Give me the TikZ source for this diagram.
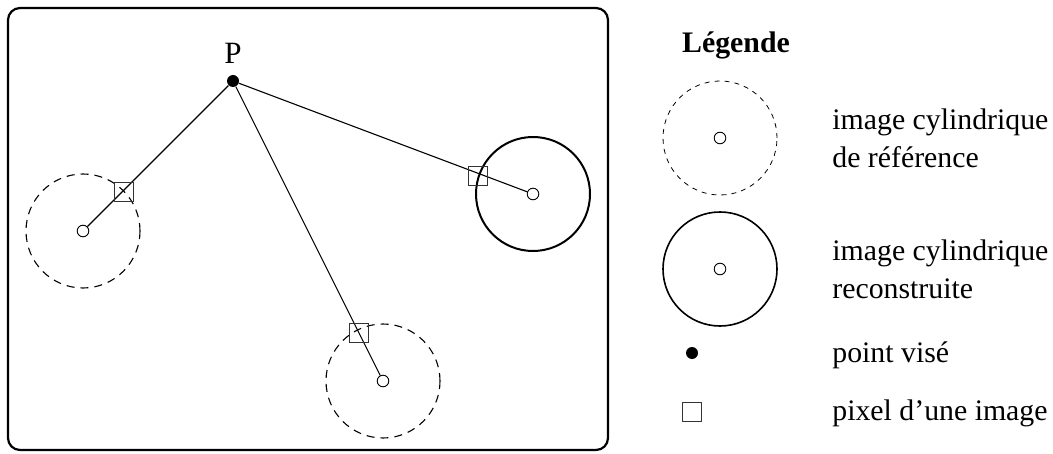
\documentclass[tikz,border=0pt]{standalone}
\usepackage{fontspec}
\setmainfont{Liberation Serif}
\usetikzlibrary{positioning}
\tikzset{
  refimg/.style={draw,circle,dash pattern=on 4pt off 3pt,line width=0.55pt,minimum size=57pt,inner sep=0pt},
  recimg/.style={draw,circle,line width=1pt,minimum size=57pt,inner sep=0pt},
  centre/.style={draw,circle,fill=white,line width=0.45pt,minimum size=5.8pt,inner sep=0pt},
  pixel/.style={draw=black!80,rectangle,line width=0.7pt,minimum size=9.5pt,inner sep=0pt},
  vise/.style={fill,circle,minimum size=6pt,inner sep=0pt},
  legtext/.style={anchor=west,align=left,inner sep=0pt},
}

\begin{document}
\begin{tikzpicture}[x=0.5pt,y=-0.5pt,font=\fontsize{14.9}{19}\selectfont]
  \useasboundingbox (0,0) rectangle (1053,454);
  \draw[line width=1.1pt,rounded corners=6pt] (8,8) rectangle (608,450);
  % images de reference et image reconstruite
  \foreach \n/\x/\y in {l/83/231,b/383/381} {
    \node[refimg] (ref\n) at (\x,\y) {};
    \node[centre] (c\n) at (\x,\y) {};
  }
  \node[recimg] (rec) at (533,194) {};
  \node[centre] (cr) at (533,194) {};
  % point vise
  \node[vise] (P) at (233,81) {};
  \node[font=\fontsize{15.5}{19}\selectfont] (Plab) at (233,53) {P};
  \foreach \n in {l,r,b}
    \draw[line width=0.55pt] (P) -- (c\n);
  % pixels
  \node[pixel] (pl) at (124,192) {};
  \node[pixel] (pr) at (478,176) {};
  \node[pixel] (pb) at (359,333) {};
  % legende
  \node[font=\fontsize{14.9}{19}\selectfont\bfseries] (leg) at (736,45) {Légende};
  \node[refimg,dash pattern=on 2.5pt off 2.5pt,line width=0.4pt] (lref) at (720,138) {};
  \node[centre] at (720,138) {};
  \node[recimg,line width=0.8pt] (lrec) at (720,269) {};
  \node[centre] at (720,269) {};
  \node[vise] (lvise) at (692,353) {};
  \node[pixel] (lpix) at (692,412) {};
  \node[legtext] (t1) at (832,138) {image cylindrique\\de référence};
  \node[legtext] (t2) at (832,269) {image cylindrique\\reconstruite};
  \node[legtext] (t3) at (832,355) {point visé};
  \node[legtext] (t4) at (832,413) {pixel d’une image};
\end{tikzpicture}
\end{document}
